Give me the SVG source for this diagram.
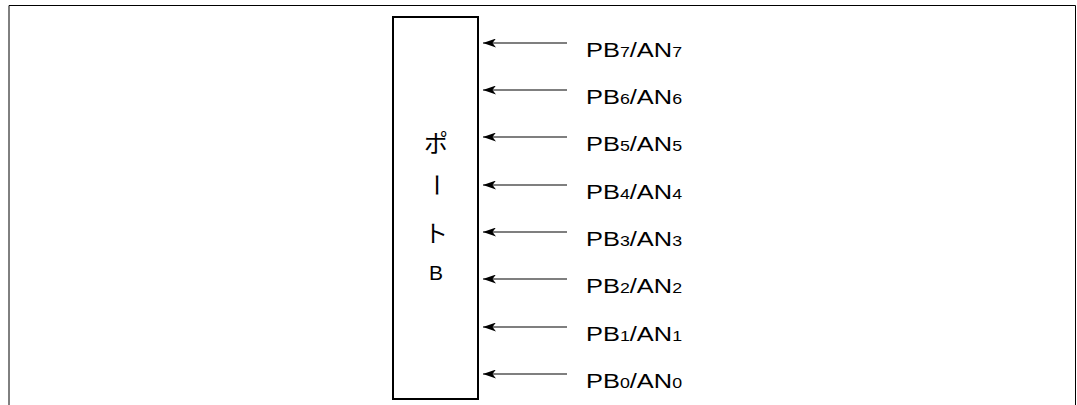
<svg xmlns="http://www.w3.org/2000/svg" width="1077" height="405" viewBox="0 0 1077 405">
<style>
.frame{fill:none;stroke:#000;stroke-width:1}
.box{fill:#fff;stroke:#000;stroke-width:2}
.conn{stroke:#000;stroke-width:1.2;fill:none;marker-end:url(#ah)}
.lbl{font-family:"Liberation Sans",Arial,sans-serif;font-size:20px;fill:#000}
.sub{font-size:14px}
.jp{font-family:"Noto Sans CJK JP",sans-serif;font-size:24px;fill:#000;text-anchor:middle}
.b{font-family:"Liberation Sans",Arial,sans-serif;font-size:21px;fill:#000;text-anchor:middle}
</style>
<defs>
<marker id="ah" viewBox="0 0 13 9" refX="13" refY="4.5" markerWidth="13" markerHeight="9" markerUnits="userSpaceOnUse" orient="auto">
<path d="M0,0 L13,4.5 L0,9 L3.5,4.5 Z" fill="#000"/>
</marker>
</defs>
<path class="frame" d="M9,405 V5.5 H1075.5 V405"/>
<g id="portB">
<rect class="box" x="393" y="17" width="85" height="382"/>
<text class="jp" x="436" y="152">ポ</text>
<text class="jp" transform="translate(436,185) rotate(90)" y="8">ー</text>
<text class="jp" x="436" y="242">ト</text>
<text class="b" x="436" y="280">B</text>
</g>
<g id="connectors">
<line class="conn" x1="567" y1="43" x2="483" y2="43"/>
<line class="conn" x1="567" y1="90" x2="483" y2="90"/>
<line class="conn" x1="567" y1="137" x2="483" y2="137"/>
<line class="conn" x1="567" y1="185" x2="483" y2="185"/>
<line class="conn" x1="567" y1="232" x2="483" y2="232"/>
<line class="conn" x1="567" y1="279" x2="483" y2="279"/>
<line class="conn" x1="567" y1="327" x2="483" y2="327"/>
<line class="conn" x1="567" y1="374" x2="483" y2="374"/>
</g>
<g id="labels">
<text id="pb7" class="lbl" transform="translate(586,57) scale(1.27,1)">PB<tspan class="sub">7</tspan>/AN<tspan class="sub">7</tspan></text>
<text id="pb6" class="lbl" transform="translate(586,104) scale(1.27,1)">PB<tspan class="sub">6</tspan>/AN<tspan class="sub">6</tspan></text>
<text id="pb5" class="lbl" transform="translate(586,151) scale(1.27,1)">PB<tspan class="sub">5</tspan>/AN<tspan class="sub">5</tspan></text>
<text id="pb4" class="lbl" transform="translate(586,199) scale(1.27,1)">PB<tspan class="sub">4</tspan>/AN<tspan class="sub">4</tspan></text>
<text id="pb3" class="lbl" transform="translate(586,246) scale(1.27,1)">PB<tspan class="sub">3</tspan>/AN<tspan class="sub">3</tspan></text>
<text id="pb2" class="lbl" transform="translate(586,293) scale(1.27,1)">PB<tspan class="sub">2</tspan>/AN<tspan class="sub">2</tspan></text>
<text id="pb1" class="lbl" transform="translate(586,341) scale(1.27,1)">PB<tspan class="sub">1</tspan>/AN<tspan class="sub">1</tspan></text>
<text id="pb0" class="lbl" transform="translate(586,388) scale(1.27,1)">PB<tspan class="sub">0</tspan>/AN<tspan class="sub">0</tspan></text>
</g>
</svg>
